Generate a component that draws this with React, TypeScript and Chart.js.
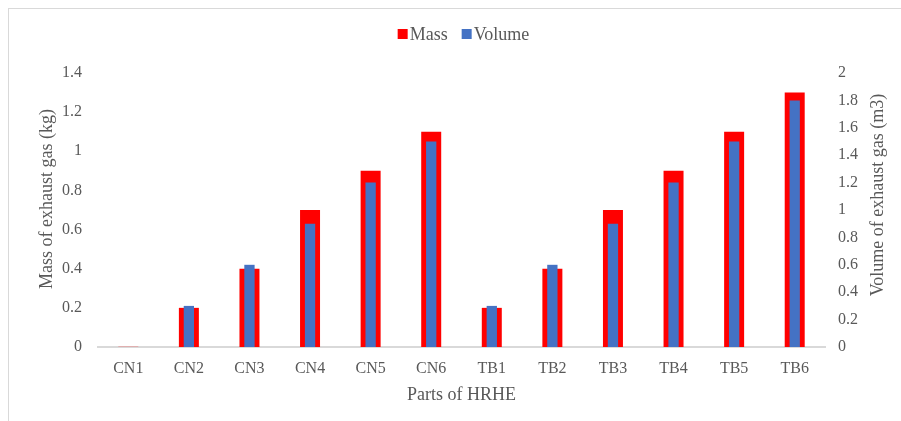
import { useEffect, useRef } from "react";
import { Chart, registerables } from "chart.js";

Chart.register(...registerables);

// Parts of the heat-recovery heat exchanger
const categories = ["CN1", "CN2", "CN3", "CN4", "CN5", "CN6", "TB1", "TB2", "TB3", "TB4", "TB5", "TB6"];
// Mass of exhaust gas (kg)
const massKg = [0.001, 0.2, 0.4, 0.7, 0.9, 1.1, 0.2, 0.4, 0.7, 0.9, 1.1, 1.3];
// Volume of exhaust gas (m3)
const volumeM3 = [0, 0.3, 0.6, 0.9, 1.2, 1.5, 0.3, 0.6, 0.9, 1.2, 1.5, 1.8];

const massAxis = { min: 0, max: 1.4, step: 0.2 };
const volumeAxis = { min: 0, max: 2, step: 0.2 };

const xTitle = "Parts of HRHE";
const massTitle = "Mass of exhaust gas (kg)";
const volumeTitle = "Volume of exhaust gas (m3)";

const FONT = "'Liberation Serif', 'Times New Roman', serif";
const TEXT = "#595959";
const RED = "#FF0000";
const BLUE = "#4472C4";
const LINE = "#D9D9D9";

const fmt = (v: number | string) => String(Number(Number(v).toFixed(1)));

const decorations = {
  id: "titlesAndLegend",
  afterDraw(chart: any) {
    const { ctx, chartArea: a } = chart;
    const cx = (a.left + a.right) / 2;
    const cy = (a.top + a.bottom) / 2;
    ctx.save();
    ctx.fillStyle = TEXT;
    ctx.textAlign = "center";
    ctx.textBaseline = "middle";
    ctx.font = `18px ${FONT}`;
    ctx.fillText(xTitle, cx, a.bottom + 48);

    ctx.save();
    ctx.translate(a.left - 51, cy - 11);
    ctx.rotate(-Math.PI / 2);
    ctx.fillText(massTitle, 0, 0);
    ctx.restore();

    ctx.save();
    ctx.translate(a.right + 53, cy - 15);
    ctx.rotate(-Math.PI / 2);
    ctx.fillText(volumeTitle, 0, 0);
    ctx.restore();

    // legend
    ctx.font = `18px ${FONT}`;
    ctx.textAlign = "left";
    const box = 10;
    const gap = 2;
    const itemGap = 14;
    const items = chart.data.datasets.map((d: any) => ({
      label: d.label,
      color: d.backgroundColor,
      w: ctx.measureText(d.label).width,
    }));
    const total = items.reduce((s: number, it: any) => s + box + gap + it.w, 0) + itemGap * (items.length - 1);
    let x = cx + 2 - total / 2;
    const ly = 25;
    for (const it of items) {
      ctx.fillStyle = it.color;
      ctx.fillRect(x, ly - box / 2, box, box);
      ctx.fillStyle = TEXT;
      ctx.fillText(it.label, x + box + gap, ly + 1);
      x += box + gap + it.w + itemGap;
    }
    ctx.restore();
  },
};

export default function App() {
  const ref = useRef<HTMLCanvasElement | null>(null);

  useEffect(() => {
    if (!ref.current) return;
    const chart = new Chart(ref.current, {
      type: "bar",
      data: {
        labels: categories,
        datasets: [
          {
            label: "Mass",
            data: massKg,
            backgroundColor: RED,
            yAxisID: "y",
            grouped: false,
            order: 2,
            barPercentage: 0.33,
            categoryPercentage: 1,
          } as any,
          {
            label: "Volume",
            data: volumeM3,
            backgroundColor: BLUE,
            yAxisID: "y2",
            grouped: false,
            order: 1,
            barPercentage: 0.17,
            categoryPercentage: 1,
          } as any,
        ],
      },
      options: {
        animation: false,
        responsive: false,
        devicePixelRatio: 1,
        layout: { padding: { top: 64, left: 0, right: 0, bottom: 0 } },
        plugins: {
          legend: { display: false },
          tooltip: { enabled: false },
        },
        scales: {
          x: {
            grid: { display: false, drawTicks: false },
            border: { display: true, color: LINE, width: 2 },
            ticks: { color: TEXT, font: { family: FONT, size: 16 }, padding: 12 },
            afterFit: (s: any) => {
              s.height = 74;
            },
          },
          y: {
            position: "left",
            min: massAxis.min,
            max: massAxis.max,
            grid: { display: false, drawTicks: false },
            border: { display: false },
            ticks: {
              stepSize: massAxis.step,
              color: TEXT,
              font: { family: FONT, size: 16 },
              padding: 16,
              callback: (v: any) => fmt(v),
            },
            afterFit: (s: any) => {
              s.width = 89;
            },
          },
          y2: {
            position: "right",
            min: volumeAxis.min,
            max: volumeAxis.max,
            grid: { display: false, drawTicks: false },
            border: { display: false },
            ticks: {
              stepSize: volumeAxis.step,
              color: TEXT,
              font: { family: FONT, size: 16 },
              padding: 13,
              callback: (v: any) => fmt(v),
            },
            afterFit: (s: any) => {
              s.width = 76;
            },
          },
        },
      },
      plugins: [decorations],
    });
    return () => chart.destroy();
  }, []);

  return (
    <div
      style={{
        position: "absolute",
        left: 8,
        top: 8,
        width: 893,
        height: 413,
        boxSizing: "border-box",
        borderTop: `1px solid ${LINE}`,
        borderLeft: `1px solid ${LINE}`,
        background: "#fff",
      }}
    >
      <canvas ref={ref} width={892} height={412} style={{ display: "block", width: 892, height: 412 }} />
    </div>
  );
}
